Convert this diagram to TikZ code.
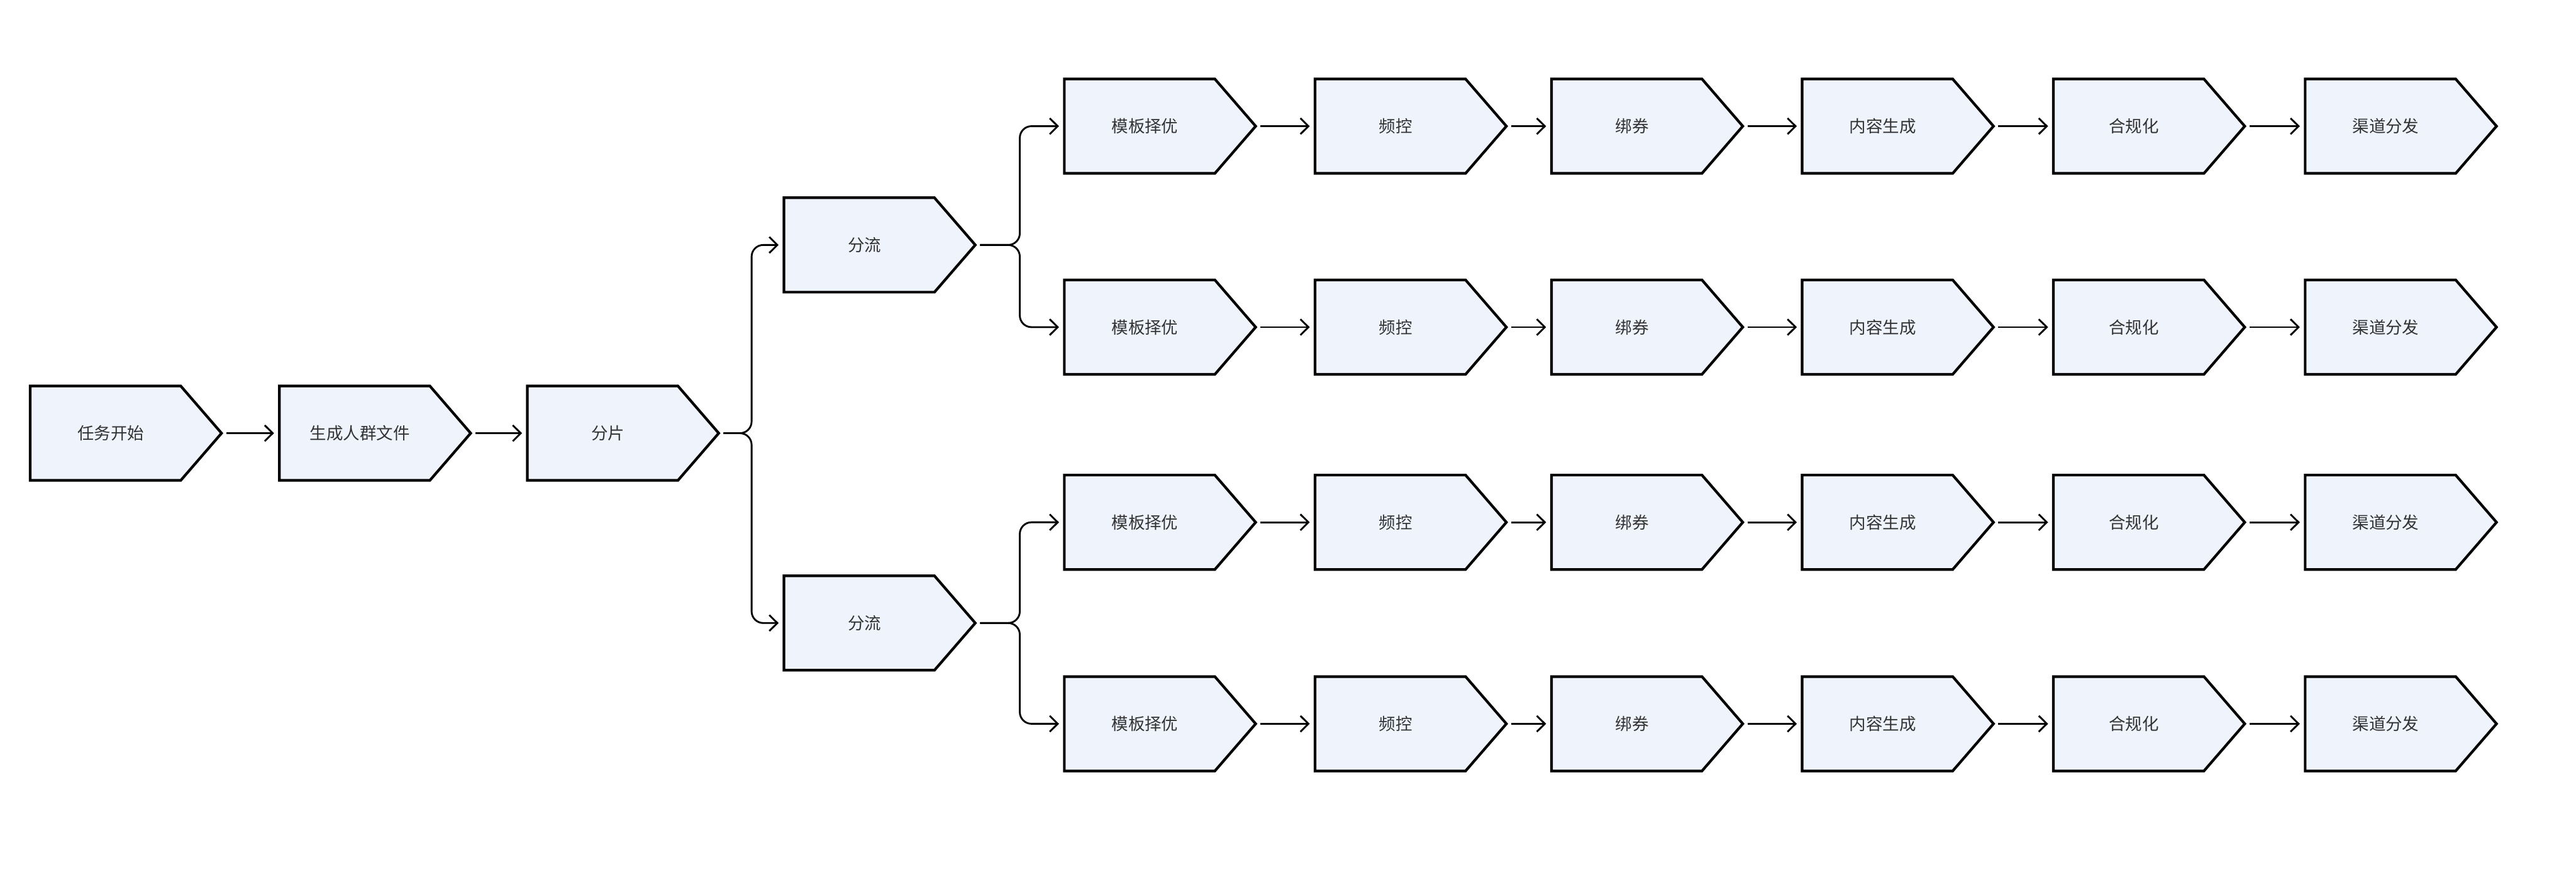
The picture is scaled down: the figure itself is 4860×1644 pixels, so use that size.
\documentclass[tikz,border=0pt]{standalone}
\usepackage{fontspec}
\newfontfamily\cjk{Noto Sans CJK SC}
\usetikzlibrary{arrows.meta,calc}
\definecolor{stagefill}{HTML}{EEF3FC}
\definecolor{stagetextcol}{HTML}{333333}
\tikzset{
  stagebox/.style={rectangle,draw=none,inner sep=0pt,outer sep=0pt,minimum width=90.25pt,minimum height=44.5pt},
  stageshape/.style={draw=black,fill=stagefill,line width=1.25pt,line join=miter},
  stagetext/.style={inner sep=0pt,text=stagetextcol,font=\cjk\fontsize{7.85}{9}\selectfont},
  conn/.style={draw=black,line width=0.85pt,-{Straight Barb[length=3.8pt,width=7.5pt,line width=0.85pt]},shorten >=2.5pt},
  branch/.style={conn,rounded corners=5.5pt}
}
\newcommand\stage[4]{%
  \node[stagebox] (#1) at (#2,#3) {};
  \path[stageshape] (#1.north west) -- ([xshift=-19.25pt]#1.north east) -- (#1.east)
     -- ([xshift=-19.25pt]#1.south east) -- (#1.south west) -- cycle;
  \node[stagetext] (#1-t) at ([xshift=38pt]#1.west) {#4};
}
\begin{document}
\begin{tikzpicture}[x=0.25pt,y=-0.25pt]
\useasboundingbox (0,0) rectangle (4860,1644);
% main row
\stage{rw}{237.5}{817}{任务开始}
\stage{sc}{707.5}{817}{生成人群文件}
\stage{fp}{1175.5}{817}{分片}
\stage{fa}{1659.5}{462}{分流}
\stage{fb}{1659.5}{1175}{分流}
% chains
\foreach \r/\y in {1/238,2/617,3/985,4/1365}{
  \stage{m\r}{2188.5}{\y}{模板择优}
  \stage{p\r}{2661.5}{\y}{频控}
  \stage{b\r}{3107.5}{\y}{绑券}
  \stage{c\r}{3580.5}{\y}{内容生成}
  \stage{h\r}{4054.5}{\y}{合规化}
  \stage{q\r}{4529.5}{\y}{渠道分发}
}
% connectors main row
\draw[conn] ([xshift=2.25pt]rw.east) -- (sc.west);
\draw[conn] ([xshift=2.25pt]sc.east) -- (fp.west);
% branch from 分片
\coordinate (v0) at (1418,817);
\draw[branch] ([xshift=2.25pt]fp.east) -- (v0) |- (fa.west);
\draw[branch] ([xshift=2.25pt]fp.east) -- (v0) |- (fb.west);
% branches from 分流
\coordinate (va) at (1924,462);
\coordinate (vb) at (1924,1175);
\draw[branch] ([xshift=2.25pt]fa.east) -- (va) |- (m1.west);
\draw[branch] ([xshift=2.25pt]fa.east) -- (va) |- (m2.west);
\draw[branch] ([xshift=2.25pt]fb.east) -- (vb) |- (m3.west);
\draw[branch] ([xshift=2.25pt]fb.east) -- (vb) |- (m4.west);
% chain connectors
\foreach \r in {1,2,3,4}{
  \draw[conn] ([xshift=2.25pt]m\r.east) -- (p\r.west);
  \draw[conn] ([xshift=2.25pt]p\r.east) -- (b\r.west);
  \draw[conn] ([xshift=2.25pt]b\r.east) -- (c\r.west);
  \draw[conn] ([xshift=2.25pt]c\r.east) -- (h\r.west);
  \draw[conn] ([xshift=2.25pt]h\r.east) -- (q\r.west);
}
\end{tikzpicture}
\end{document}
